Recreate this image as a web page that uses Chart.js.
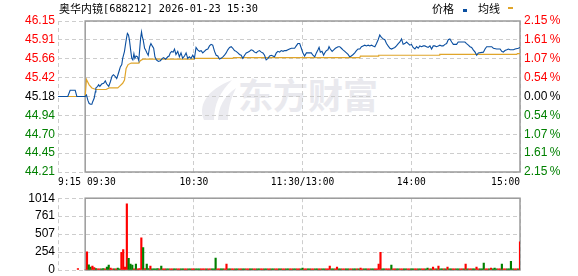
<!DOCTYPE html>
<html>
<head>
<meta charset="utf-8">
<script src="https://cdn.jsdelivr.net/npm/chart.js@4.4.1/dist/chart.umd.min.js"></script>
<style>
html,body{margin:0;padding:0;background:#fff;overflow:hidden}
#wrap{position:relative;width:578px;height:276px}
canvas{position:absolute;left:0}
#cP{top:0}
#cV{top:188px}
.ttl{position:absolute;left:59px;top:1px;height:14px;white-space:nowrap;color:#000;display:flex;align-items:center}
.cn{font:11px "Noto Sans CJK SC";}
.mono{font:10.3px "DejaVu Sans Mono";}
.lg{position:absolute;top:1px;font:11px "Noto Sans CJK SC";color:#000;line-height:14px}
.mk{position:absolute;width:4px;height:3px}
.wm{position:absolute;left:238px;top:76px;font:bold 35px "Noto Sans CJK SC";color:#e9e9ee;line-height:1;white-space:nowrap}
.logo{position:absolute;left:196px;top:76px}
</style>
</head>
<body>
<div id="wrap">
  <svg class="logo" width="44" height="46" viewBox="0 0 44 46">
    <path d="M8 44 C2 30 10 14 36 4 C24 16 18 28 18 44 Z" fill="#ebebf0"/>
    <path d="M22 44 C22 32 28 20 40 12 C34 24 32 34 32 44 Z" fill="#ebebf0"/>
  </svg>
  <div class="wm">东方财富</div>
  <canvas id="cP" width="578" height="190"></canvas>
  <canvas id="cV" width="578" height="100"></canvas>
  <div class="ttl"><span class="cn">奥华内镜</span><span class="mono">[688212] 2026-01-23 15:30</span></div>
  <div class="lg" style="left:432px">价格</div>
  <div class="mk" style="left:463px;top:9px;background:#0b4fa0"></div>
  <div class="lg" style="left:478px">均线</div>
  <div class="mk" style="left:508px;top:7px;width:5px;height:2px;background:#e0a52a"></div>
</div>
<script>
// 分时数据 (分钟: -15 = 9:15, 0 = 9:30, 120 = 11:30/13:00, 240 = 15:00)
const PREV_CLOSE=45.18, Y_MAX=46.15, Y_MIN=44.21, VOL_MAX=1014;
const xTickVals=[-15,60,120,180,240];
const xTickLabels=['9:15 09:30','10:30','11:30/13:00','14:00','15:00'];
const priceLabels=['46.15','45.91','45.66','45.42','45.18','44.94','44.70','44.45','44.21'];
const pctLabels=['2.15\u2009%','1.61\u2009%','1.07\u2009%','0.54\u2009%','0.00\u2009%','0.54\u2009%','1.07\u2009%','1.61\u2009%','2.15\u2009%'];
const volLabels=['1014','761','507','254','0'];

const pricePts=[[-15,45.18],[-9.6,45.18],[-8.3,45.26],[-5.5,45.26],[-4.6,45.18],[0,45.18],
[0.7,45.20],[1.5,45.13],[2.2,45.09],[3.0,45.08],[3.7,45.08],[4.1,45.11],[5.0,45.16],[5.6,45.24],[5.9,45.29],[6.9,45.31],[7.4,45.33],[8.1,45.31],[9.1,45.34],[10.2,45.35],
[11.1,45.38],[11.9,45.34],[13.0,45.31],[13.9,45.37],[14.8,45.44],[15.6,45.46],[16.5,45.44],[17.4,45.41],[18.1,45.46],[18.9,45.52],[19.4,45.56],[20.2,45.59],[20.7,45.67],[21.7,45.76],
[22.2,45.84],[22.8,45.93],[23.3,45.99],[23.9,45.97],[24.4,45.91],[25.2,45.76],[25.7,45.67],[26.3,45.65],[26.9,45.73],[27.4,45.67],[28.1,45.70],[28.9,45.69],[29.6,45.64],[30.0,45.76],
[30.6,45.93],[31.1,46.01],[31.5,45.95],[32.0,45.91],[32.8,45.80],[33.3,45.78],[34.1,45.74],[34.8,45.71],[35.6,45.82],[36.3,45.86],[37.0,45.83],[37.8,45.80],[38.5,45.69],[39.3,45.65],
[40.4,45.63],[41.5,45.64],[42.6,45.67],[43.3,45.68],[44.4,45.66],[45.6,45.69],[46.3,45.70],[47.0,45.74],[47.8,45.76],[48.5,45.75],[49.3,45.79],[50.1,45.72],[51.1,45.76],[52.0,45.69],
[52.9,45.74],[53.8,45.67],[54.8,45.70],[55.7,45.74],[56.6,45.67],[57.5,45.69],[58.4,45.67],[59.4,45.71],[60.3,45.67],[61.2,45.81],[62.1,45.78],[63.1,45.76],[64.0,45.77],[64.9,45.74],
[65.8,45.76],[66.7,45.78],[67.7,45.79],[68.6,45.83],[69.5,45.85],[70.4,45.84],[71.4,45.76],[72.3,45.71],[73.2,45.70],[74.1,45.66],[75.0,45.67],[76.0,45.69],[76.9,45.71],[77.8,45.74],
[78.7,45.78],[79.7,45.81],[80.6,45.82],[81.5,45.80],[82.4,45.77],[83.3,45.76],[84.3,45.74],[85.2,45.72],[86.1,45.71],[87.0,45.67],[88.0,45.71],[88.9,45.74],[89.8,45.75],[90.7,45.76],
[91.6,45.78],[92.6,45.77],[93.5,45.75],[94.4,45.74],[95.3,45.76],[96.2,45.77],[97.2,45.75],[98.1,45.74],[99.0,45.71],[99.9,45.65],[100.9,45.67],[101.8,45.70],[102.7,45.71],[103.6,45.70],
[104.5,45.69],[105.5,45.74],[106.4,45.76],[107.3,45.75],[108.2,45.77],[109.2,45.76],[110.1,45.77],[111.0,45.77],[111.9,45.78],[112.8,45.79],[113.8,45.80],[115.6,45.80],[116.5,45.83],[117.4,45.86],
[118.4,45.86],[119.3,45.80],[120.2,45.74],[121.1,45.70],[122.1,45.74],[124.8,45.74],[125.7,45.71],[126.7,45.69],[127.6,45.74],[128.5,45.78],[129.1,45.81],[129.8,45.75],[130.7,45.76],[131.6,45.71],
[132.2,45.74],[133.1,45.77],[134.0,45.78],[134.6,45.82],[135.3,45.79],[136.3,45.76],[137.2,45.78],[138.1,45.80],[139.6,45.82],[140.5,45.82],[141.4,45.80],[142.3,45.78],[143.3,45.76],[144.2,45.74],
[145.1,45.72],[146.0,45.69],[146.9,45.70],[147.9,45.72],[148.8,45.74],[149.7,45.77],[150.6,45.79],[151.6,45.79],[152.5,45.82],[153.4,45.83],[154.3,45.84],[155.2,45.83],[156.2,45.84],[157.1,45.83],
[158.0,45.84],[158.9,45.83],[159.9,45.82],[160.8,45.86],[161.7,45.91],[162.6,45.97],[163.5,45.94],[164.5,45.92],[165.4,45.91],[166.3,45.86],[167.2,45.83],[168.2,45.80],[169.1,45.79],[170.0,45.80],
[170.9,45.81],[171.8,45.83],[172.8,45.86],[173.7,45.88],[174.6,45.92],[175.5,45.85],[176.4,45.86],[177.4,45.88],[178.3,45.86],[179.2,45.84],[180.1,45.85],[181.0,45.81],[182.0,45.79],[182.9,45.82],
[183.8,45.80],[184.7,45.83],[185.7,45.82],[186.6,45.83],[187.5,45.83],[188.4,45.82],[189.3,45.81],[190.3,45.83],[191.2,45.79],[192.1,45.83],[193.0,45.83],[193.9,45.82],[194.9,45.83],[195.8,45.84],
[196.7,45.83],[197.6,45.83],[198.6,45.85],[199.5,45.86],[200.4,45.91],[201.3,45.92],[202.3,45.88],[203.2,45.85],[205.0,45.85],[205.9,45.88],[209.6,45.88],[210.5,45.86],[211.5,45.84],[212.4,45.82],
[213.3,45.81],[214.2,45.78],[215.2,45.75],[216.1,45.71],[217.0,45.74],[219.8,45.75],[220.7,45.79],[221.6,45.82],[224.4,45.82],[225.3,45.80],[227.1,45.79],[229.0,45.79],[229.9,45.76],[230.8,45.75],
[231.7,45.77],[232.7,45.78],[233.6,45.79],[234.5,45.78],[236.4,45.78],[237.3,45.79],[239.1,45.80],[240,45.81]];

const avgPts=[[-9.6,45.18],[0,45.18],[0.7,45.40],[2.2,45.33],[3.7,45.29],[6.0,45.27],[11.5,45.27],[13.3,45.29],[18.0,45.29],[18.9,45.31],
[20.7,45.35],[21.7,45.39],[22.6,45.54],[23.7,45.59],[25.4,45.61],[29.6,45.61],[30.4,45.64],[31.9,45.66],[60.0,45.66],[60.3,45.67],
[81.5,45.67],[81.8,45.68],[151.6,45.68],[151.9,45.70],[161.7,45.70],[162.0,45.71],[195.4,45.71],[195.7,45.72],[238.2,45.72],[238.5,45.73],[240,45.73]];

// 成交量 (index = 分钟 0..240)
const vol=[0,
257,73,41,55,35,20,18,18,18,20, 18,41,69,28,18,18,18,28,18,248,
289,41,936,165,83,69,18,83,18,20, 454,317,20,83,20,55,18,18,18,20,
18,55,18,15,18,15,18,18,15,18, 18,15,18,18,15,18,18,15,18,18,
18,15,18,18,15,18,15,18,18,15, 18,168,18,15,18,18,15,82,18,18,
15,18,18,15,18,18,15,18,18,15, 18,18,15,18,18,15,18,18,15,18,
18,15,18,18,15,18,18,15,18,18, 15,18,18,15,18,18,15,18,18,27,
18,15,18,18,15,18,18,15,18,18, 15,18,18,15,55,18,15,18,41,18,
18,15,18,18,15,18,18,15,18,18, 15,27,18,18,15,18,18,15,18,18,
15,82,251,18,18,15,18,18,68,18, 18,15,18,18,15,18,18,15,18,18,
15,18,18,15,18,18,15,18,27,18, 18,41,18,18,55,18,15,18,18,41,
18,15,18,18,15,18,18,15,18,82, 18,15,18,18,15,41,18,15,18,96,
18,15,18,27,15,27,18,15,18,82, 18,15,18,18,123,18,15,18,18,397];
const volDir=('-'+
'rggrrgrrgg rggrrgrggr rrrgggrgrr rgrggrgggg rgrrggrrgg rrggrrggrr gggrrrgrrg ggrrggrrgg '+
'rrggrrggrr ggrrggrrgg rrggrrggrr ggrrggrrgg rrggrrggrr ggrrrggrrg grrggrrggr grrggrrggr '+
'rrrggrrrgr rggrrggrrg grrggrrggr grrgrggrgr ggrrggrrgr grrggrrggg rrgrgggrrg rrggggrrgr').replace(/ /g,'');
const preVolMin=[-4], preVol=[20];

const RED='#ff0000', GREEN='#008000', GRID='#cdcdcd';
Chart.defaults.font.family='Liberation Sans';

const frame={id:'frame',beforeDatasetsDraw(c){
  const {ctx,chartArea:a,scales:{x}}=c;
  const l=x.getPixelForValue(0), r=x.getPixelForValue(240);
  ctx.save();ctx.strokeStyle='#9a9a9a';ctx.lineWidth=1.5;ctx.setLineDash([]);
  ctx.strokeRect(l,a.top,r-l,a.bottom-a.top);ctx.restore();
}};

const yTickVals=priceLabels.map((_,k)=>Y_MIN+k*(Y_MAX-Y_MIN)/8);
const sideColor=i=>i<4?GREEN:i===4?'#000':RED;

const xScale=(showLabels)=>({
  type:'linear',min:-15,max:240,offset:false,
  afterBuildTicks:s=>{s.ticks=xTickVals.map(v=>({value:v}));},
  afterFit:s=>{s.height=18;},
  ticks:{display:showLabels,autoSkip:false,maxRotation:0,align:'inner',padding:5,color:'#000',
    font:{family:'DejaVu Sans Mono',size:9.6},callback:(v,i)=>xTickLabels[i]},
  grid:{color:GRID,lineWidth:1,drawTicks:false,offset:false},
  border:{display:false,dash:[4,3]}
});

new Chart(document.getElementById('cP'),{
  type:'line',
  data:{datasets:[
    {label:'价格',data:pricePts.map(p=>({x:p[0],y:p[1]})),borderColor:'#0b4fa0',borderWidth:1.1,pointRadius:0,tension:0,yAxisID:'y'},
    {label:'均线',data:avgPts.map(p=>({x:p[0],y:p[1]})),borderColor:'#e0a52a',borderWidth:1.2,pointRadius:0,tension:0,yAxisID:'y'}
  ]},
  options:{
    responsive:false,animation:false,parsing:false,
    layout:{padding:{top:21,left:0,right:0,bottom:0}},
    plugins:{legend:{display:false},tooltip:{enabled:false}},
    scales:{
      x:xScale(true),
      y:{position:'left',min:Y_MIN,max:Y_MAX,
        afterBuildTicks:s=>{s.ticks=yTickVals.map(v=>({value:v}));},
        afterFit:s=>{s.width=58;},
        ticks:{padding:3,font:{size:12},color:c=>sideColor(c.index),callback:(v,i)=>priceLabels[8-i]},
        grid:{color:GRID,lineWidth:1,drawTicks:false},border:{display:false,dash:[4,3]}},
      y2:{position:'right',min:Y_MIN,max:Y_MAX,
        afterBuildTicks:s=>{s.ticks=yTickVals.map(v=>({value:v}));},
        afterFit:s=>{s.width=58;},
        ticks:{padding:4,font:{size:12},color:c=>sideColor(c.index),callback:(v,i)=>pctLabels[8-i]},
        grid:{display:false,drawTicks:false},border:{display:false}}
    }
  },
  plugins:[frame]
});

const volTickVals=volLabels.map((_,k)=>k*VOL_MAX/4);
new Chart(document.getElementById('cV'),{
  type:'bar',
  data:{datasets:[
    {data:vol.map((v,i)=>({x:i,y:v})),backgroundColor:vol.map((v,i)=>volDir[i]==='g'?GREEN:RED),barThickness:1.5,grouped:false},
    {data:preVolMin.map((m,i)=>({x:m,y:preVol[i]})),backgroundColor:RED,barThickness:1.5,grouped:false}
  ]},
  options:{
    responsive:false,animation:false,parsing:false,
    layout:{padding:{top:8,left:0,right:58,bottom:0}},
    plugins:{legend:{display:false},tooltip:{enabled:false}},
    scales:{
      x:xScale(false),
      y:{position:'left',min:0,max:VOL_MAX,
        afterBuildTicks:s=>{s.ticks=volTickVals.map(v=>({value:v}));},
        afterFit:s=>{s.width=58;},
        ticks:{padding:3,font:{size:12},color:'#000',callback:(v,i)=>volLabels[4-i]},
        grid:{color:GRID,lineWidth:1,drawTicks:false},border:{display:false,dash:[4,3]}}
    }
  },
  plugins:[frame]
});
</script>
</body>
</html>
